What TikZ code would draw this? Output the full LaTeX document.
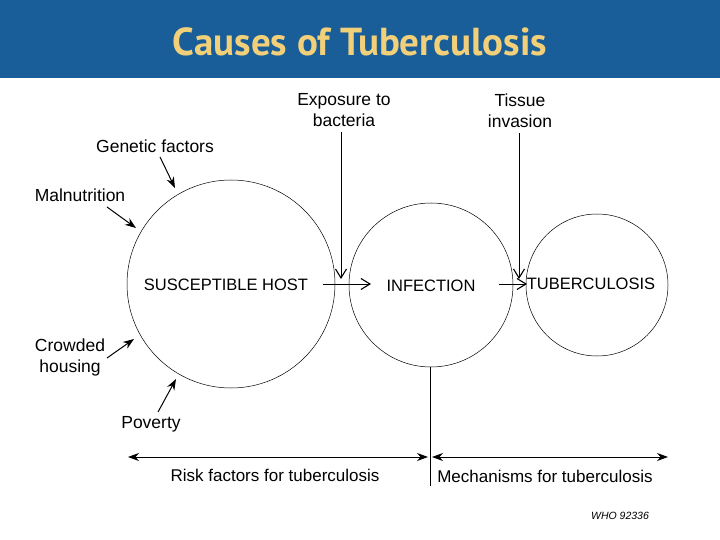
\documentclass[tikz,border=0pt]{standalone}
\usepackage{fontspec}
\setmainfont{Liberation Sans}
\newfontfamily\titlefont{PT Sans}
\usetikzlibrary{arrows.meta}
\definecolor{barblue}{RGB}{26,94,153}
\definecolor{titleyellow}{RGB}{242,208,122}
\tikzset{
  lbl/.style={font=\fontsize{17.5}{21}\selectfont, align=center, inner sep=0pt},
  caps/.style={font=\fontsize{16.5}{20}\selectfont, align=center, inner sep=0pt},
  ring/.style={draw, line width=0.5pt, circle},
  flow/.style={line width=1pt, -{Straight Barb[length=9pt,width=11pt,line width=1.1pt]}},
  cause/.style={line width=1pt, -{Stealth[length=11pt,width=8pt]}},
  span/.style={line width=0.9pt, {Stealth[length=11pt,width=8pt]}-{Stealth[length=11pt,width=8pt]}}
}
\begin{document}
\begin{tikzpicture}[x=1pt,y=-1pt]
\useasboundingbox (0,0) rectangle (720,540);
\fill[white] (0,0) rectangle (720,540);
\fill[barblue] (0,0) rectangle (720,78);
\node[font=\titlefont\bfseries\fontsize{39}{44}\selectfont, text=titleyellow] (title) at (360,42) {Causes of Tuberculosis};

% circles
\node[ring, minimum size=208pt] (host) at (231,284) {};
\node[ring, minimum size=164pt] (inf) at (431,285) {};
\node[ring, minimum size=142pt] (tb) at (597,285) {};

% circle labels
\node[caps] (hostt) at (226,285) {SUSCEPTIBLE HOST};
\node[caps] (inft) at (431,286) {INFECTION};
\node[caps] (tbt) at (591,284) {TUBERCULOSIS};

% horizontal arrows
\coordinate (h1s) at (323,284);
\coordinate (h1e) at (371,284);
\coordinate (h2s) at (499,284);
\coordinate (h2e) at (527,284);
\draw[flow] (h1s) -- (h1e);
\draw[flow] (h2s) -- (h2e);

% top labels
\node[lbl] (expo) at (344,110) {Exposure to\\bacteria};
\node[lbl] (tiss) at (520,111) {Tissue\\invasion};
\coordinate (expoe) at (341,279);
\coordinate (tisse) at (519,279);
\draw[flow] (expo.south -| expoe) ++(0,5) -- (expoe);
\draw[flow] (tiss.south -| tisse) ++(0,5) -- (tisse);

% risk factors
\node[lbl] (gen) at (155,146) {Genetic factors};
\node[lbl] (mal) at (80,195) {Malnutrition};
\node[lbl] (crowd) at (70,357) {Crowded\\housing};
\node[lbl] (pov) at (151,424) {Poverty};
\coordinate (gene) at (175,188);
\coordinate (male) at (136,228);
\coordinate (crowde) at (134,339);
\coordinate (pove) at (176,379);
\draw[cause] (160,157) -- (gene);
\draw[cause] (107,207) -- (male);
\draw[cause] (107,358) -- (crowde);
\draw[cause] (158,412) -- (pove);

% divider
\coordinate (divtop) at (430,367);
\coordinate (divbot) at (430,486);
\draw[line width=0.6pt] (divtop) -- (divbot);

% spans
\coordinate (s1a) at (128,457);
\coordinate (s1b) at (428,457);
\coordinate (s2a) at (432,457);
\coordinate (s2b) at (668,457);
\draw[span] (s1a) -- (s1b);
\draw[span] (s2a) -- (s2b);
\node[lbl, font=\fontsize{17}{20}\selectfont] (risk) at (275,475) {Risk factors for tuberculosis};
\node[lbl, font=\fontsize{17}{20}\selectfont] (mech) at (545,476) {Mechanisms for tuberculosis};

\node[lbl, font=\itshape\fontsize{10.5}{12}\selectfont] (who) at (620,516) {WHO 92336};
\end{tikzpicture}
\end{document}
